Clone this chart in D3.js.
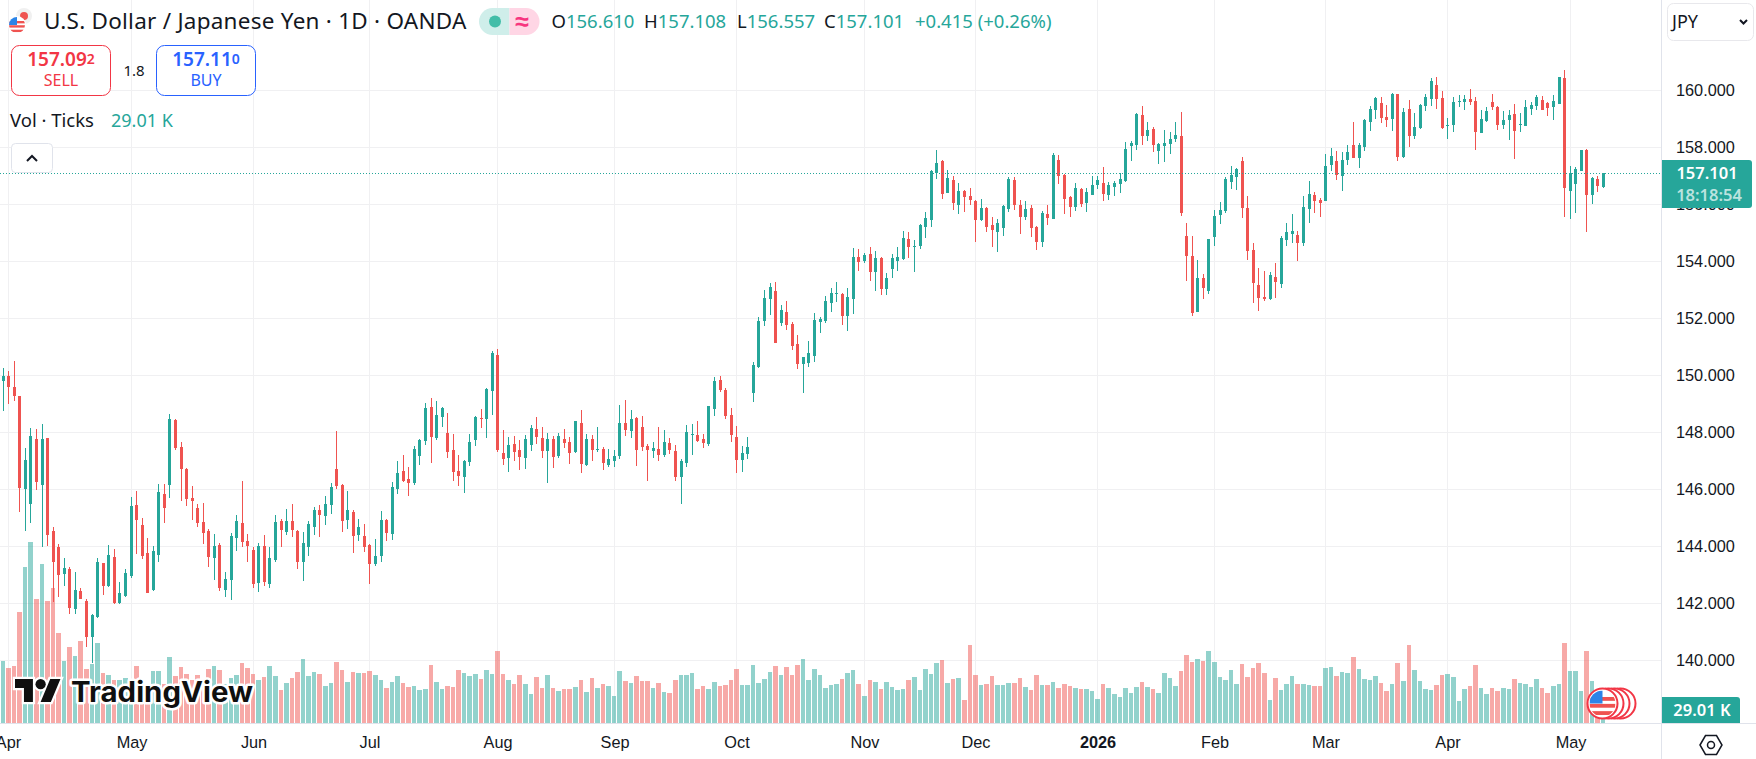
<!DOCTYPE html>
<html>

<head>
    <meta charset="utf-8">
    <style>
        html, body {
            margin: 0;
            padding: 0;
            background: #fff;
            overflow: hidden;
        }

        svg {
            display: block;
            font-family: 'Noto Sans', sans-serif;
        }

        .grid line {
            stroke: #f0f0f2;
            stroke-width: 1;
            shape-rendering: crispEdges;
        }

        .axis text {
            fill: #131722;
        }

        .axis path, .axis line {
            display: none;
        }
    </style>
</head>

<body>
    <svg id="chart" width="1756" height="759"></svg>
</body>

<script src="https://d3js.org/d3.v7.min.js"></script>

<script>
    // daily USD/JPY, values
    const opens = [
        149.80,149.98,149.59,149.27,146.02,145.50,147.77,146.16,147.80,144.54,
        143.98,143.04,143.20,141.80,142.43,142.08,140.83,141.51,143.42,142.61,
        143.63,142.02,142.26,142.96,145.45,144.75,143.77,142.47,143.70,145.84,
        146.15,148.43,147.49,146.71,145.70,145.35,144.85,144.54,143.59,144.05,
        142.47,142.82,144.29,144.82,144.19,143.87,142.71,144.01,142.68,143.52,
        144.89,144.50,144.89,144.54,143.45,143.98,144.68,145.28,145.06,145.45,
        146.71,146.15,144.92,145.21,144.40,144.36,144.05,143.38,143.66,144.92,
        144.43,146.01,146.64,146.36,146.22,147.17,147.70,148.89,147.80,148.54,
        147.98,147.38,146.64,146.43,146.96,147.73,148.50,148.47,149.45,150.71,
        147.28,147.10,147.59,147.38,147.10,147.56,148.12,147.80,147.35,147.77,
        147.17,147.77,147.66,147.31,148.33,146.85,147.77,147.38,147.42,146.85,
        146.99,147.17,148.33,148.05,148.50,148.19,147.52,147.35,147.42,147.21,
        147.63,147.35,146.43,146.92,147.91,147.91,147.77,147.59,148.82,149.84,
        149.49,148.61,147.84,147.03,147.24,149.38,150.29,151.91,152.68,152.96,
        151.84,152.22,151.80,151.10,150.40,150.43,150.68,151.87,151.91,152.54,
        152.85,152.85,152.08,152.68,154.15,154.01,154.26,153.63,154.12,153.03,
        153.73,154.01,154.08,154.78,154.50,154.54,155.20,155.45,157.10,157.52,
        156.40,156.85,155.98,156.47,156.29,156.12,155.45,155.87,155.27,155.03,
        155.17,155.84,156.85,155.98,155.55,155.87,155.20,154.68,155.66,155.48,
        157.55,157.03,156.26,155.91,156.54,156.05,156.33,156.68,156.75,156.33,
        156.61,156.71,156.82,158.05,158.08,159.13,158.40,158.64,157.87,158.05,
        158.12,158.29,158.40,154.89,154.19,152.22,153.41,152.96,154.85,155.62,
        155.77,156.78,156.96,157.52,155.87,154.40,153.17,152.75,152.68,153.45,
        153.20,154.75,154.96,154.92,154.64,155.84,156.33,156.15,156.11,157.38,
        157.52,156.99,157.55,158.08,157.62,158.01,158.89,159.31,159.56,159.06,
        159.00,159.87,157.66,159.34,158.40,158.68,159.45,159.70,160.19,159.73,
        158.75,158.78,159.59,159.59,159.69,159.62,158.50,158.92,159.59,159.41,
        158.78,158.96,159.17,158.78,158.75,159.34,159.45,159.66,159.56,159.41,
        159.52,160.43,156.47,156.71,157.17,157.91,156.33,156.89,156.61
    ];

    const closes = [
        149.98,149.60,149.27,146.06,147.03,147.87,146.27,147.77,144.41,143.46,
        143.01,143.24,141.84,142.47,142.15,140.83,141.59,143.45,142.61,143.70,
        142.00,142.36,143.06,145.42,144.92,143.66,142.36,143.84,145.91,145.35,
        148.47,147.45,146.71,145.66,145.59,144.82,144.47,143.63,144.01,142.54,
        142.85,144.36,144.89,144.15,144.01,142.68,144.01,142.75,143.59,144.85,
        144.57,144.89,144.57,143.45,144.12,144.78,145.28,145.10,145.49,146.08,
        146.12,144.89,145.28,144.36,144.68,143.98,143.38,143.66,144.92,144.47,
        146.08,146.57,146.29,146.22,147.42,147.73,148.85,147.84,148.61,148.85,
        147.31,146.61,146.47,146.99,147.66,148.54,148.47,149.52,150.78,147.38,
        147.06,147.56,147.31,147.13,147.77,148.15,147.84,147.35,147.77,147.13,
        147.87,147.63,147.28,148.40,146.89,147.77,147.38,147.42,146.92,147.06,
        147.17,148.33,148.08,148.47,147.38,147.49,147.38,147.45,147.21,147.66,
        147.38,146.43,146.99,148.01,147.94,147.70,147.63,148.92,149.80,149.49,
        148.57,147.91,147.03,147.28,147.49,150.36,151.91,152.71,153.10,151.14,
        152.29,151.77,151.03,150.40,150.64,150.78,151.94,151.98,152.61,152.89,
        152.89,152.08,152.75,154.15,153.98,154.22,153.63,154.12,153.03,153.41,
        154.12,154.15,154.82,154.50,154.54,155.27,155.52,157.17,157.45,156.36,
        156.92,156.05,156.47,156.26,156.15,155.45,155.87,155.20,155.10,155.34,
        155.94,156.89,155.98,155.55,155.84,155.17,154.68,155.70,155.52,157.73,
        156.99,156.19,155.91,156.57,156.01,156.43,156.68,156.85,156.36,156.68,
        156.75,156.89,157.94,158.15,159.17,158.40,158.61,158.08,158.12,158.15,
        158.29,158.43,155.70,154.19,152.19,153.41,153.06,154.78,155.59,155.80,
        156.89,157.03,157.24,155.87,154.36,153.24,152.71,152.68,153.52,153.27,
        154.82,155.03,155.06,154.64,155.91,156.36,156.12,156.05,157.34,157.69,
        157.03,157.55,157.84,157.62,158.08,158.96,159.34,159.73,159.03,158.96,
        159.87,157.66,159.24,158.40,158.71,159.48,159.76,160.33,159.70,158.68,
        158.78,159.59,159.62,159.69,159.59,158.54,159.00,159.27,159.41,158.78,
        158.96,159.13,158.57,158.82,159.41,159.48,159.76,159.31,159.38,159.62,
        160.47,156.57,157.10,157.24,157.91,156.33,156.92,156.64,157.101
    ];

    const highs = [
        150.25,150.15,150.50,149.27,147.45,148.15,148.12,148.29,147.80,144.68,
        144.07,143.59,143.27,143.10,142.54,142.14,141.63,143.59,143.42,144.05,
        143.91,142.75,143.20,145.73,145.94,145.00,144.29,144.01,146.19,146.19,
        148.64,148.47,147.66,146.75,146.12,145.49,145.52,144.61,144.43,144.12,
        143.10,144.47,145.10,146.29,144.43,143.98,144.12,144.40,143.98,145.10,
        144.96,145.31,145.49,144.57,144.50,144.89,145.38,145.45,145.77,146.22,
        148.05,146.19,145.94,145.28,144.96,144.78,144.08,144.26,145.24,144.96,
        146.26,147.00,147.21,146.78,147.52,147.77,149.03,149.20,149.10,148.89,
        148.68,147.94,147.21,147.03,147.94,148.57,148.82,149.56,150.85,150.92,
        148.08,147.84,147.87,147.73,147.91,148.26,148.54,148.19,147.98,147.87,
        147.98,148.12,147.84,148.40,148.78,147.94,147.91,148.19,147.49,147.42,
        147.38,148.96,149.13,148.78,148.54,148.57,147.59,147.66,148.19,148.08,
        147.80,147.56,147.06,148.26,148.29,148.40,147.94,148.92,149.94,149.98,
        149.56,148.85,148.22,147.52,147.84,150.47,152.05,153.00,153.24,153.28,
        152.47,152.61,151.87,151.42,150.64,151.21,152.19,152.05,152.78,153.06,
        153.28,152.89,153.06,154.47,154.43,154.29,154.50,154.36,154.15,153.59,
        154.26,154.50,155.06,155.03,154.75,155.31,155.73,157.20,157.91,157.55,
        157.20,156.99,156.75,156.50,156.57,156.15,156.19,155.91,155.55,155.48,
        155.98,156.96,156.96,156.15,156.12,155.98,155.24,155.77,155.98,157.80,
        157.73,157.06,156.29,156.75,156.57,156.57,156.99,156.99,157.31,156.78,
        156.82,157.10,158.19,158.22,159.20,159.45,158.89,158.71,158.15,158.61,
        158.54,158.89,159.24,155.34,154.89,154.05,153.55,154.78,155.80,156.08,
        156.96,157.34,157.27,157.66,156.29,154.64,153.77,153.66,153.63,153.94,
        154.89,155.34,155.66,155.06,156.29,156.82,156.43,156.22,157.76,157.98,
        157.87,157.84,158.08,158.89,158.15,158.99,159.45,159.77,159.77,159.48,
        159.91,159.87,159.38,159.66,159.20,159.52,159.87,160.43,160.47,159.98,
        159.03,159.77,159.84,159.84,160.05,159.77,159.31,159.41,159.87,159.45,
        159.27,159.31,159.52,159.20,159.66,159.59,159.84,159.80,159.59,159.84,
        160.47,160.71,157.34,157.31,157.91,157.94,156.96,156.99,157.108
    ];

    const lows = [
        148.73,149.01,149.11,145.22,144.55,144.83,145.99,143.99,144.02,142.06,
        142.22,142.62,141.63,141.63,142.14,140.48,139.92,141.50,142.29,142.57,
        141.98,141.98,142.22,142.89,143.73,143.56,142.36,142.43,143.45,144.82,
        145.70,147.38,145.59,145.42,144.92,144.68,144.08,143.28,142.82,142.43,
        142.22,142.12,143.84,143.98,143.45,142.54,142.40,142.61,142.54,143.45,
        143.98,144.40,144.33,143.20,142.78,143.66,144.40,144.33,144.75,145.13,
        146.01,144.50,144.61,143.77,144.19,143.80,142.68,143.31,143.45,144.19,
        144.22,145.84,146.26,145.77,146.15,146.85,147.56,146.92,147.73,148.19,
        147.10,146.29,146.12,145.87,146.82,147.52,148.15,147.80,148.61,147.31,
        146.85,146.61,146.99,146.68,146.71,147.35,147.59,147.10,146.22,146.75,
        147.10,147.45,146.89,147.28,146.57,146.82,146.99,147.31,146.68,146.78,
        146.78,147.06,147.87,147.80,146.82,147.35,146.29,147.10,146.99,147.13,
        147.24,146.29,145.49,146.78,147.21,147.66,147.45,147.52,148.57,149.42,
        148.47,147.66,146.57,146.61,147.06,149.07,150.26,151.73,152.12,151.14,
        151.73,151.59,150.89,150.22,149.38,150.29,150.47,151.49,151.84,152.22,
        152.57,151.77,151.56,152.15,153.66,153.94,153.31,152.96,152.82,152.82,
        153.41,153.66,154.05,154.12,153.63,154.43,154.82,155.20,156.89,156.19,
        156.40,155.80,155.66,155.73,155.98,154.68,155.41,155.03,154.50,154.33,
        154.89,155.73,155.80,154.96,155.45,154.85,154.40,154.50,155.27,155.48,
        156.71,155.66,155.55,155.77,155.91,155.73,156.33,156.54,156.12,156.15,
        156.29,156.40,156.78,157.52,157.91,158.08,158.22,157.84,157.41,157.48,
        157.77,158.19,155.59,153.31,152.08,152.22,152.68,152.85,154.54,155.31,
        155.70,156.54,156.50,155.52,154.05,152.54,152.26,152.61,152.64,152.71,
        153.06,154.54,154.64,154.01,154.54,155.34,155.70,155.55,156.11,157.17,
        156.85,156.47,157.38,157.62,157.27,157.87,158.57,158.99,158.85,158.71,
        158.57,157.52,157.62,158.01,158.29,158.64,159.27,159.45,159.34,158.64,
        158.29,158.54,159.41,159.31,159.48,157.91,158.50,158.89,159.31,158.61,
        158.64,158.26,157.59,158.54,158.75,159.13,159.31,159.31,159.10,158.96,
        159.52,155.55,155.48,155.69,157.17,155.03,156.01,156.43,156.557
    ];

    // tick volume in thousands
    const volumes = [
        124,111,114,222,312,362,248,318,244,270,
        180,124,152,134,164,108,118,160,100,96,
        86,86,90,79,114,79,79,104,104,79,
        132,94,112,98,86,96,86,108,114,106,
        79,90,96,120,110,98,86,92,114,94,
        66,80,90,102,128,94,102,98,74,80,
        122,106,82,102,100,100,104,96,86,70,
        82,94,80,72,74,66,68,116,82,69,
        75,73,107,101,95,99,89,107,99,145,
        99,87,79,97,79,59,93,71,97,71,
        65,69,69,73,87,63,91,71,79,75,
        55,105,85,81,95,85,85,71,81,63,
        61,87,97,97,101,69,75,69,83,75,
        77,87,109,77,77,117,81,89,103,115,
        97,113,97,117,129,87,109,97,71,77,
        79,89,101,107,79,55,87,83,69,83,
        73,67,69,87,93,67,109,99,121,127,
        81,89,91,47,157,97,77,79,95,77,
        77,81,81,91,73,67,97,77,77,83,
        71,79,75,71,69,69,65,49,79,71,
        59,53,71,61,73,83,73,69,61,101,
        91,75,105,137,123,129,125,145,123,93,
        87,107,79,119,93,111,121,101,47,91,
        67,79,95,79,79,77,75,75,111,113,
        95,103,101,133,109,89,87,95,81,65,
        79,121,85,157,107,85,69,67,77,97,
        99,93,45,69,75,117,71,59,71,65,
        71,69,89,81,79,73,89,71,61,75,
        79,161,105,105,65,145,85,53,29.01
    ];

    const priceTicks = [160, 158, 156, 154, 152, 150, 148, 146, 144, 142, 140];
    const monthBars = [0, 23, 45, 66, 89, 110, 132, 155, 175, 197, 218, 238, 260, 282];
    const monthLabels = ['Apr', 'May', 'Jun', 'Jul', 'Aug', 'Sep', 'Oct', 'Nov', 'Dec', '2026', 'Feb', 'Mar', 'Apr', 'May'];

    const lastPrice = 157.101;
    const lastVolume = 29.01;

    const up = '#26a69a';
    const down = '#ef5350';
    const red = '#f23645';
    const ink = '#131722';

    const plotRight = 1661;
    const plotBottom = 723;

    let svg = d3.select('#chart');

    let x = d3.scaleLinear().domain([0, 288]).range([3.2, 1603.5]);
    let y = d3.scaleLinear().domain([140, 160]).range([660.3, 90.3]);
    let yVol = d3.scaleLinear().domain([0, 400]).range([plotBottom, plotBottom - 200]);

    // bars sit on whole pixels so spacing goes 5,6,5,6 like the original
    let cx = i => Math.floor(x(i)) + 0.5;

    // --- grid
    let grid = svg.append('g').attr('class', 'grid');
    grid.selectAll('.h').data(priceTicks).join('line')
        .attr('class', 'h')
        .attr('x1', 0).attr('x2', plotRight)
        .attr('y1', d => Math.round(y(d)) + 0.5).attr('y2', d => Math.round(y(d)) + 0.5);
    grid.selectAll('.v').data(monthBars.map((d, i) => i == 0 ? 1 : d)).join('line')
        .attr('class', 'v')
        .attr('y1', 0).attr('y2', plotBottom)
        .attr('x1', d => cx(d)).attr('x2', d => cx(d));

    // --- volume
    svg.append('g').attr('shape-rendering', 'crispEdges')
        .selectAll('rect').data(volumes).join('rect')
        .attr('x', (d, i) => cx(i) - 2.5)
        .attr('width', (d, i) => i < 288 ? cx(i + 1) - cx(i) - 1 : 4)
        .attr('y', d => yVol(d))
        .attr('height', d => plotBottom - yVol(d))
        .attr('fill', (d, i) => closes[i] >= opens[i] ? up : down)
        .attr('fill-opacity', 0.5);

    // --- candles
    let candles = svg.append('g').attr('shape-rendering', 'crispEdges')
        .selectAll('g').data(opens).join('g')
        .attr('fill', (d, i) => closes[i] >= opens[i] ? up : down);
    candles.append('rect')
        .attr('x', (d, i) => cx(i) - 0.5)
        .attr('width', 1)
        .attr('y', (d, i) => y(highs[i]))
        .attr('height', (d, i) => y(lows[i]) - y(highs[i]));
    candles.append('rect')
        .attr('x', (d, i) => cx(i) - 1.5)
        .attr('width', 3)
        .attr('y', (d, i) => y(Math.max(opens[i], closes[i])))
        .attr('height', (d, i) => Math.max(1, Math.abs(y(opens[i]) - y(closes[i]))));

    // --- last price line
    svg.append('line')
        .attr('x1', 0).attr('x2', plotRight)
        .attr('y1', Math.round(y(lastPrice)) + 0.5).attr('y2', Math.round(y(lastPrice)) + 0.5)
        .attr('stroke', up)
        .attr('stroke-dasharray', '1 2');

    // --- watermark
    let logo = svg.append('g');
    let markPath = 'M14 22H7V11H0V4h14v18zM28 22h-8l7.5-18h8L28 22z';
    let mark = logo.append('g').attr('transform', 'translate(15,673.9) scale(1.28)');
    mark.append('path').attr('d', markPath).attr('fill', '#fff').attr('stroke', '#fff').attr('stroke-width', 3.5);
    mark.append('circle').attr('cx', 20).attr('cy', 8).attr('r', 4).attr('fill', '#fff').attr('stroke', '#fff').attr('stroke-width', 3.5);
    mark.append('path').attr('d', markPath).attr('fill', '#0f0f0f');
    mark.append('circle').attr('cx', 20).attr('cy', 8).attr('r', 4).attr('fill', '#0f0f0f');
    logo.append('text')
        .attr('x', 71).attr('y', 702)
        .attr('font-family', 'Inter')
        .attr('font-weight', 700)
        .attr('font-size', 28)
        .attr('textLength', 182)
        .attr('lengthAdjust', 'spacingAndGlyphs')
        .attr('fill', '#0f0f0f')
        .attr('stroke', '#fff')
        .attr('stroke-width', 5)
        .attr('stroke-linejoin', 'round')
        .attr('paint-order', 'stroke')
        .text('TradingView');

    // --- event flags near the last bar
    let defs = svg.append('defs');
    defs.append('clipPath').attr('id', 'flagClip').append('circle').attr('r', 13);
    defs.append('clipPath').attr('id', 'flagClipSmall').append('circle').attr('r', 8);

    function usFlag(g, r, clip) {
        g.append('circle').attr('r', r).attr('fill', '#fff');
        let f = g.append('g').attr('clip-path', 'url(#' + clip + ')');
        let band = r / 3.4;
        [-1.7, 0.1, 2].forEach(k => {
            f.append('rect').attr('x', -r).attr('width', 2 * r).attr('y', k * band).attr('height', band).attr('fill', down);
        });
        f.append('rect').attr('x', -r).attr('y', -r).attr('width', r).attr('height', r).attr('fill', '#2a84e8');
        return f;
    }

    [18, 12, 6].forEach(d => {
        svg.append('circle').attr('cx', 1602.5 + d).attr('cy', 703.5).attr('r', 15)
            .attr('fill', '#fff').attr('stroke', red).attr('stroke-width', 2);
    });
    svg.append('circle').attr('cx', 1602.5).attr('cy', 703.5).attr('r', 15)
        .attr('fill', '#fff').attr('stroke', red).attr('stroke-width', 2);
    usFlag(svg.append('g').attr('transform', 'translate(1602.5,703.5)'), 13, 'flagClip');

    // --- panes' borders
    svg.append('line').attr('x1', plotRight + 0.5).attr('x2', plotRight + 0.5)
        .attr('y1', 0).attr('y2', 759).attr('stroke', '#e0e3eb');
    svg.append('line').attr('x1', 0).attr('x2', 1756)
        .attr('y1', plotBottom + 0.5).attr('y2', plotBottom + 0.5).attr('stroke', '#e0e3eb');

    // --- axes
    svg.append('g').attr('class', 'axis')
        .attr('transform', 'translate(' + plotRight + ',0)')
        .call(d3.axisRight(y).tickValues(priceTicks).tickFormat(d3.format('.3f')).tickSize(0).tickPadding(15))
        .selectAll('text').attr('font-size', 16.3);

    let timeAxis = d3.axisBottom(d3.scaleOrdinal().domain(monthLabels.map((d, i) => i)).range(monthBars.map((d, i) => i == 0 ? 8 : cx(d))))
        .tickFormat(i => monthLabels[i]).tickSize(0).tickPadding(13);
    svg.append('g').attr('class', 'axis')
        .attr('transform', 'translate(0,' + plotBottom + ')')
        .call(timeAxis)
        .selectAll('text')
        .attr('font-size', 16.3)
        .attr('font-weight', (d, i) => monthLabels[i] == '2026' ? 700 : 400);

    // --- price and volume tags
    svg.append('path')
        .attr('d', 'M1662 160H1749a3 3 0 0 1 3 3V205a3 3 0 0 1 -3 3H1662Z')
        .attr('fill', up);
    svg.append('text').attr('x', 1707).attr('y', 179).attr('text-anchor', 'middle')
        .attr('font-size', 16.5).attr('font-weight', 600).attr('fill', '#fff').text(d3.format('.3f')(lastPrice));
    svg.append('text').attr('x', 1709).attr('y', 201).attr('text-anchor', 'middle')
        .attr('font-size', 16.5).attr('font-weight', 600).attr('fill', '#fff').attr('fill-opacity', 0.7).text('18:18:54');

    svg.append('path')
        .attr('d', 'M1662 697H1737a3 3 0 0 1 3 3V723H1662Z')
        .attr('fill', up);
    svg.append('text').attr('x', 1702).attr('y', 716).attr('text-anchor', 'middle')
        .attr('font-size', 16.5).attr('font-weight', 600).attr('fill', '#fff').text(lastVolume + ' K');

    // settings hexagon
    let hex = svg.append('g').attr('transform', 'translate(1711,745)')
        .attr('fill', 'none').attr('stroke', ink).attr('stroke-width', 1.5);
    hex.append('path').attr('d', 'M-11 0L-5.5 -9.5H5.5L11 0L5.5 9.5H-5.5Z');
    hex.append('circle').attr('r', 3.5);

    // --- header
    let flags = svg.append('g');
    let jp = flags.append('g').attr('transform', 'translate(24,16)');
    jp.append('circle').attr('r', 8).attr('fill', '#f0f0f0');
    jp.append('circle').attr('r', 4).attr('fill', down);
    flags.append('circle').attr('cx', 17).attr('cy', 25).attr('r', 9).attr('fill', '#fff');
    usFlag(flags.append('g').attr('transform', 'translate(17,25)'), 8, 'flagClipSmall');

    svg.append('text').attr('x', 44).attr('y', 29).attr('font-size', 22.5).attr('letter-spacing', 0.25).attr('fill', ink)
        .text('U.S. Dollar / Japanese Yen · 1D · OANDA');

    // status pill
    svg.append('path').attr('d', 'M509.5 8H492.5a13.5 13.5 0 0 0 0 27H509.5Z').attr('fill', '#cfeeea');
    svg.append('path').attr('d', 'M509.5 8H526a13.5 13.5 0 0 1 0 27H509.5Z').attr('fill', '#ffd6e5');
    svg.append('circle').attr('cx', 495).attr('cy', 21.5).attr('r', 6).attr('fill', '#42bda8');
    svg.append('text').attr('x', 522).attr('y', 30).attr('text-anchor', 'middle').attr('font-size', 25).attr('font-weight', 700).attr('fill', '#f7357f').text('≈');

    // OHLC line
    let ohlcX = [551.5, 644, 737, 824];
    [['O', opens[288]], ['H', highs[288]], ['L', lows[288]], ['C', closes[288]]].forEach((p, i) => {
        let t = svg.append('text').attr('x', ohlcX[i]).attr('y', 28).attr('font-size', 18.5).attr('fill', up);
        t.append('tspan').attr('fill', ink).text(p[0]);
        t.append('tspan').text(d3.format('.3f')(p[1]));
    });
    svg.append('text').attr('x', 915).attr('y', 28).attr('font-size', 18.5).attr('fill', up).text('+0.415 (+0.26%)');

    // sell / buy boxes
    function tradeBox(bx, color, big, small, label) {
        svg.append('rect').attr('x', bx + 0.5).attr('y', 45.5).attr('width', 99).attr('height', 50).attr('rx', 8)
            .attr('fill', '#fff').attr('stroke', color);
        let t = svg.append('text').attr('x', bx + 50).attr('y', 66).attr('text-anchor', 'middle')
            .attr('font-size', 19).attr('font-weight', 600).attr('fill', color);
        t.append('tspan').text(big);
        t.append('tspan').attr('font-size', 14).attr('dy', -2).text(small);
        svg.append('text').attr('x', bx + 50).attr('y', 85.5).attr('text-anchor', 'middle')
            .attr('font-size', 16).attr('fill', color).text(label);
    }
    tradeBox(11, red, '157.09', '2', 'SELL');
    tradeBox(156, '#2962ff', '157.11', '0', 'BUY');
    svg.append('text').attr('x', 134).attr('y', 76).attr('text-anchor', 'middle')
        .attr('font-size', 15).attr('fill', ink).text('1.8');

    // volume legend
    svg.append('text').attr('x', 10).attr('y', 127).attr('font-size', 18.5).attr('fill', ink).text('Vol · Ticks');
    svg.append('text').attr('x', 111).attr('y', 127).attr('font-size', 18).attr('fill', up).text(lastVolume + ' K');

    // collapse button
    svg.append('rect').attr('x', 11.5).attr('y', 143.5).attr('width', 41).attr('height', 29).attr('rx', 4)
        .attr('fill', '#fff').attr('stroke', '#e0e3eb');
    svg.append('path').attr('d', 'M27 161l5 -5l5 5').attr('fill', 'none').attr('stroke', ink).attr('stroke-width', 2);

    // currency button
    svg.append('rect').attr('x', 1667.5).attr('y', 3.5).attr('width', 86).attr('height', 37).attr('rx', 6)
        .attr('fill', '#fff').attr('stroke', '#e8e8ec');
    svg.append('text').attr('x', 1672).attr('y', 28).attr('font-size', 18).attr('fill', ink).text('JPY');
    svg.append('path').attr('d', 'M1740 20l3.5 3.5l3.5 -3.5').attr('fill', 'none').attr('stroke', ink).attr('stroke-width', 2);
</script>
</html>
